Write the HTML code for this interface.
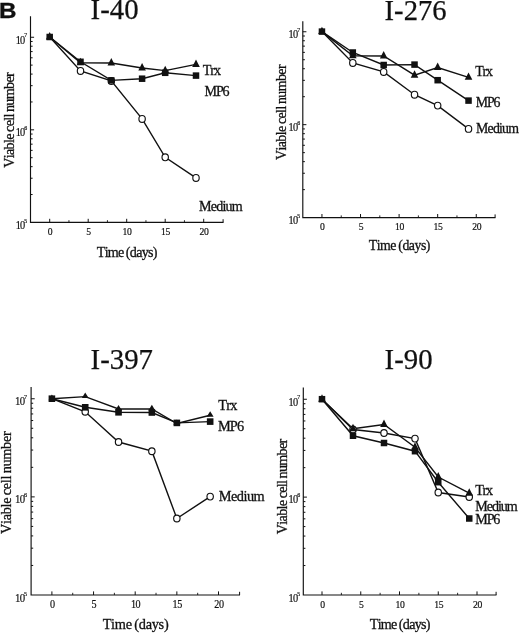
<!DOCTYPE html>
<html lang="en">
<head>
<meta charset="utf-8">
<title>Figure B: Viable cell number</title>
<style>
html,body{margin:0;padding:0;background:#fff;}
body{width:520px;height:634px;overflow:hidden;}
svg{display:block;}
svg text{font-family:"Liberation Serif", serif;fill:#111;font-kerning:none;}
</style>
</head>
<body>
<svg width="520" height="634" viewBox="0 0 520 634">
<rect width="520" height="634" fill="#fff"/>
<text transform="translate(-1.1 17.5) scale(1.1,1)" style='font-family:"Liberation Sans", sans-serif;font-weight:bold' font-size="22" stroke="#000" stroke-width="0.3" fill="#000">B</text>
<path d="M30.50 16.25V222.40H223.50" fill="none" stroke="#111" stroke-width="1.15"/>
<path d="M49.70 222.40v-3.6M88.20 222.40v-3.6M126.70 222.40v-3.6M165.20 222.40v-3.6M203.70 222.40v-3.6M223.10 222.40v-3.2" stroke="#111" stroke-width="1" fill="none"/>
<path d="M68.95 222.40v-2.2M107.45 222.40v-2.2M145.95 222.40v-2.2M184.45 222.40v-2.2" stroke="#111" stroke-width="0.9" fill="none"/>
<path d="M30.50 37.25h3.6M30.50 129.82h3.6" stroke="#111" stroke-width="1" fill="none"/>
<path d="M30.50 101.96h2.1M30.50 85.66h2.1M30.50 74.09h2.1M30.50 65.12h2.1M30.50 57.79h2.1M30.50 51.59h2.1M30.50 46.22h2.1M30.50 41.49h2.1M30.50 194.53h2.1M30.50 178.23h2.1M30.50 166.66h2.1M30.50 157.69h2.1M30.50 150.36h2.1M30.50 144.17h2.1M30.50 138.80h2.1M30.50 134.06h2.1" stroke="#111" stroke-width="1" fill="none"/>
<text transform="translate(50.10 235.40) scale(0.88,1)" font-size="11" letter-spacing="-0.4" text-anchor="middle" stroke="#111" stroke-width="0.2">0</text>
<text transform="translate(88.60 235.40) scale(0.88,1)" font-size="11" letter-spacing="-0.4" text-anchor="middle" stroke="#111" stroke-width="0.2">5</text>
<text transform="translate(127.10 235.40) scale(0.88,1)" font-size="11" letter-spacing="-0.4" text-anchor="middle" stroke="#111" stroke-width="0.2">10</text>
<text transform="translate(165.60 235.40) scale(0.88,1)" font-size="11" letter-spacing="-0.4" text-anchor="middle" stroke="#111" stroke-width="0.2">15</text>
<text transform="translate(204.10 235.40) scale(0.88,1)" font-size="11" letter-spacing="-0.4" text-anchor="middle" stroke="#111" stroke-width="0.2">20</text>
<text transform="translate(15.70 43.55) scale(0.86,1)" font-size="12" letter-spacing="-0.9" stroke="#111" stroke-width="0.2">10<tspan font-size="6.8" dy="-6.2" dx="-0.2">7</tspan></text>
<text transform="translate(15.70 136.12) scale(0.86,1)" font-size="12" letter-spacing="-0.9" stroke="#111" stroke-width="0.2">10<tspan font-size="6.8" dy="-6.2" dx="-0.2">6</tspan></text>
<text transform="translate(15.70 229.20) scale(0.86,1)" font-size="12" letter-spacing="-0.9" stroke="#111" stroke-width="0.2">10<tspan font-size="6.8" dy="-6.2" dx="-0.2">5</tspan></text>
<text transform="translate(14.20 167.76) rotate(-90) scale(0.91,1)" font-size="15.5" letter-spacing="-0.726" word-spacing="-0.7" stroke="#111" stroke-width="0.3">Viable cell number</text>
<text transform="translate(96.75 257.00) scale(0.91,1)" font-size="15.5" letter-spacing="-0.773" word-spacing="-0.7" stroke="#111" stroke-width="0.3">Time (days)</text>
<text x="90.60" y="19.20" font-size="28.8" stroke="#111" stroke-width="0.25">I-40</text>
<text transform="translate(202.65 74.60) scale(0.91,1)" font-size="15.5" letter-spacing="-1.010" word-spacing="-0.7" stroke="#111" stroke-width="0.3">Trx</text>
<text transform="translate(204.59 96.25) scale(0.91,1)" font-size="15.5" letter-spacing="-1.298" word-spacing="-0.7" stroke="#111" stroke-width="0.3">MP6</text>
<text transform="translate(199.09 211.25) scale(0.91,1)" font-size="15.5" letter-spacing="-0.917" word-spacing="-0.7" stroke="#111" stroke-width="0.3">Medium</text>
<polyline points="49.70,37.00 80.50,70.90 111.30,80.90 142.10,118.90 165.20,157.30 196.00,177.90" fill="none" stroke="#111" stroke-width="1.4"/>
<polyline points="49.70,37.00 80.50,62.70 111.30,63.00 142.10,68.00 165.20,70.60 196.00,64.40" fill="none" stroke="#111" stroke-width="1.4"/>
<polyline points="49.70,37.00 80.50,61.80 111.30,80.40 142.10,78.70 165.20,72.80 196.00,75.60" fill="none" stroke="#111" stroke-width="1.4"/>
<ellipse cx="80.50" cy="70.90" rx="3.20" ry="3.40" fill="#fff" stroke="#111" stroke-width="1.15"/>
<ellipse cx="111.30" cy="80.90" rx="3.20" ry="3.40" fill="#fff" stroke="#111" stroke-width="1.15"/>
<ellipse cx="142.10" cy="118.90" rx="3.20" ry="3.40" fill="#fff" stroke="#111" stroke-width="1.15"/>
<ellipse cx="165.20" cy="157.30" rx="3.20" ry="3.40" fill="#fff" stroke="#111" stroke-width="1.15"/>
<ellipse cx="196.00" cy="177.90" rx="3.20" ry="3.40" fill="#fff" stroke="#111" stroke-width="1.15"/>
<path d="M49.70 32.10L53.50 39.50H45.90Z" fill="#111"/>
<path d="M80.50 57.80L84.30 65.20H76.70Z" fill="#111"/>
<path d="M111.30 58.10L115.10 65.50H107.50Z" fill="#111"/>
<path d="M142.10 63.10L145.90 70.50H138.30Z" fill="#111"/>
<path d="M165.20 65.70L169.00 73.10H161.40Z" fill="#111"/>
<path d="M196.00 59.50L199.80 66.90H192.20Z" fill="#111"/>
<rect x="46.45" y="33.75" width="6.50" height="6.50" fill="#111"/>
<rect x="77.25" y="58.55" width="6.50" height="6.50" fill="#111"/>
<rect x="108.05" y="77.15" width="6.50" height="6.50" fill="#111"/>
<rect x="138.85" y="75.45" width="6.50" height="6.50" fill="#111"/>
<rect x="161.95" y="69.55" width="6.50" height="6.50" fill="#111"/>
<rect x="192.75" y="72.35" width="6.50" height="6.50" fill="#111"/>
<path d="M302.80 21.25V217.60H495.50" fill="none" stroke="#111" stroke-width="1.15"/>
<path d="M321.95 217.60v-3.6M360.52 217.60v-3.6M399.10 217.60v-3.6M437.67 217.60v-3.6M476.25 217.60v-3.6M495.10 217.60v-3.2" stroke="#111" stroke-width="1" fill="none"/>
<path d="M341.24 217.60v-2.2M379.81 217.60v-2.2M418.39 217.60v-2.2M456.96 217.60v-2.2" stroke="#111" stroke-width="0.9" fill="none"/>
<path d="M302.80 31.75h3.6M302.80 124.67h3.6" stroke="#111" stroke-width="1" fill="none"/>
<path d="M302.80 96.70h2.1M302.80 80.34h2.1M302.80 68.73h2.1M302.80 59.72h2.1M302.80 52.37h2.1M302.80 46.14h2.1M302.80 40.76h2.1M302.80 36.00h2.1M302.80 189.63h2.1M302.80 173.26h2.1M302.80 161.65h2.1M302.80 152.65h2.1M302.80 145.29h2.1M302.80 139.07h2.1M302.80 133.68h2.1M302.80 128.93h2.1" stroke="#111" stroke-width="1" fill="none"/>
<text transform="translate(322.35 229.80) scale(0.88,1)" font-size="11" letter-spacing="-0.4" text-anchor="middle" stroke="#111" stroke-width="0.2">0</text>
<text transform="translate(360.92 229.80) scale(0.88,1)" font-size="11" letter-spacing="-0.4" text-anchor="middle" stroke="#111" stroke-width="0.2">5</text>
<text transform="translate(399.50 229.80) scale(0.88,1)" font-size="11" letter-spacing="-0.4" text-anchor="middle" stroke="#111" stroke-width="0.2">10</text>
<text transform="translate(438.07 229.80) scale(0.88,1)" font-size="11" letter-spacing="-0.4" text-anchor="middle" stroke="#111" stroke-width="0.2">15</text>
<text transform="translate(476.65 229.80) scale(0.88,1)" font-size="11" letter-spacing="-0.4" text-anchor="middle" stroke="#111" stroke-width="0.2">20</text>
<text transform="translate(288.60 38.05) scale(0.86,1)" font-size="12" letter-spacing="-0.9" stroke="#111" stroke-width="0.2">10<tspan font-size="6.8" dy="-6.2" dx="-0.2">7</tspan></text>
<text transform="translate(288.60 130.97) scale(0.86,1)" font-size="12" letter-spacing="-0.9" stroke="#111" stroke-width="0.2">10<tspan font-size="6.8" dy="-6.2" dx="-0.2">6</tspan></text>
<text transform="translate(288.60 224.40) scale(0.86,1)" font-size="12" letter-spacing="-0.9" stroke="#111" stroke-width="0.2">10<tspan font-size="6.8" dy="-6.2" dx="-0.2">5</tspan></text>
<text transform="translate(286.30 159.96) rotate(-90) scale(0.91,1)" font-size="15.2" letter-spacing="-0.592" word-spacing="-0.7" stroke="#111" stroke-width="0.3">Viable cell number</text>
<text transform="translate(368.75 249.80) scale(0.91,1)" font-size="15.2" letter-spacing="-0.530" word-spacing="-0.7" stroke="#111" stroke-width="0.3">Time (days)</text>
<text x="384.60" y="20.30" font-size="28.6" stroke="#111" stroke-width="0.25">I-276</text>
<text transform="translate(475.25 76.25) scale(0.91,1)" font-size="15.2" letter-spacing="-1.238" word-spacing="-0.7" stroke="#111" stroke-width="0.3">Trx</text>
<text transform="translate(475.85 106.75) scale(0.91,1)" font-size="15.2" letter-spacing="-1.290" word-spacing="-0.7" stroke="#111" stroke-width="0.3">MP6</text>
<text transform="translate(476.10 132.70) scale(0.91,1)" font-size="15.2" letter-spacing="-0.870" word-spacing="-0.7" stroke="#111" stroke-width="0.3">Medium</text>
<polyline points="321.95,31.60 352.81,62.90 383.67,71.90 414.53,94.70 437.67,105.60 468.53,128.90" fill="none" stroke="#111" stroke-width="1.4"/>
<polyline points="321.95,31.60 352.81,55.70 383.67,56.00 414.53,75.20 437.67,67.50 468.53,77.30" fill="none" stroke="#111" stroke-width="1.4"/>
<polyline points="321.95,31.60 352.81,52.50 383.67,65.00 414.53,64.60 437.67,80.20 468.53,100.60" fill="none" stroke="#111" stroke-width="1.4"/>
<ellipse cx="352.81" cy="62.90" rx="3.20" ry="3.40" fill="#fff" stroke="#111" stroke-width="1.15"/>
<ellipse cx="383.67" cy="71.90" rx="3.20" ry="3.40" fill="#fff" stroke="#111" stroke-width="1.15"/>
<ellipse cx="414.53" cy="94.70" rx="3.20" ry="3.40" fill="#fff" stroke="#111" stroke-width="1.15"/>
<ellipse cx="437.67" cy="105.60" rx="3.20" ry="3.40" fill="#fff" stroke="#111" stroke-width="1.15"/>
<ellipse cx="468.53" cy="128.90" rx="3.20" ry="3.40" fill="#fff" stroke="#111" stroke-width="1.15"/>
<path d="M321.95 26.70L325.75 34.10H318.15Z" fill="#111"/>
<path d="M352.81 50.80L356.61 58.20H349.01Z" fill="#111"/>
<path d="M383.67 51.10L387.47 58.50H379.87Z" fill="#111"/>
<path d="M414.53 70.30L418.33 77.70H410.73Z" fill="#111"/>
<path d="M437.67 62.60L441.47 70.00H433.87Z" fill="#111"/>
<path d="M468.53 72.40L472.33 79.80H464.73Z" fill="#111"/>
<rect x="318.70" y="28.35" width="6.50" height="6.50" fill="#111"/>
<rect x="349.56" y="49.25" width="6.50" height="6.50" fill="#111"/>
<rect x="380.42" y="61.75" width="6.50" height="6.50" fill="#111"/>
<rect x="411.28" y="61.35" width="6.50" height="6.50" fill="#111"/>
<rect x="434.42" y="76.95" width="6.50" height="6.50" fill="#111"/>
<rect x="465.28" y="97.35" width="6.50" height="6.50" fill="#111"/>
<path d="M31.10 387.00V595.00H240.00" fill="none" stroke="#111" stroke-width="1.15"/>
<path d="M51.90 595.00v-3.6M93.55 595.00v-3.6M135.20 595.00v-3.6M176.85 595.00v-3.6M218.50 595.00v-3.6M239.60 595.00v-3.2" stroke="#111" stroke-width="1" fill="none"/>
<path d="M72.72 595.00v-2.2M114.38 595.00v-2.2M156.03 595.00v-2.2M197.68 595.00v-2.2" stroke="#111" stroke-width="0.9" fill="none"/>
<path d="M31.10 398.75h3.6M31.10 496.88h3.6" stroke="#111" stroke-width="1" fill="none"/>
<path d="M31.10 467.34h2.1M31.10 450.06h2.1M31.10 437.80h2.1M31.10 428.29h2.1M31.10 420.52h2.1M31.10 413.95h2.1M31.10 408.26h2.1M31.10 403.24h2.1M31.10 565.46h2.1M31.10 548.18h2.1M31.10 535.92h2.1M31.10 526.41h2.1M31.10 518.64h2.1M31.10 512.07h2.1M31.10 506.38h2.1M31.10 501.36h2.1" stroke="#111" stroke-width="1" fill="none"/>
<text transform="translate(52.30 608.40) scale(0.88,1)" font-size="11.5" letter-spacing="-0.4" text-anchor="middle" stroke="#111" stroke-width="0.2">0</text>
<text transform="translate(93.95 608.40) scale(0.88,1)" font-size="11.5" letter-spacing="-0.4" text-anchor="middle" stroke="#111" stroke-width="0.2">5</text>
<text transform="translate(135.60 608.40) scale(0.88,1)" font-size="11.5" letter-spacing="-0.4" text-anchor="middle" stroke="#111" stroke-width="0.2">10</text>
<text transform="translate(177.25 608.40) scale(0.88,1)" font-size="11.5" letter-spacing="-0.4" text-anchor="middle" stroke="#111" stroke-width="0.2">15</text>
<text transform="translate(218.90 608.40) scale(0.88,1)" font-size="11.5" letter-spacing="-0.4" text-anchor="middle" stroke="#111" stroke-width="0.2">20</text>
<text transform="translate(15.10 405.25) scale(0.86,1)" font-size="12.5" letter-spacing="-0.9" stroke="#111" stroke-width="0.2">10<tspan font-size="7.1" dy="-6.5" dx="-0.2">7</tspan></text>
<text transform="translate(15.10 503.38) scale(0.86,1)" font-size="12.5" letter-spacing="-0.9" stroke="#111" stroke-width="0.2">10<tspan font-size="7.1" dy="-6.5" dx="-0.2">6</tspan></text>
<text transform="translate(15.10 602.00) scale(0.86,1)" font-size="12.5" letter-spacing="-0.9" stroke="#111" stroke-width="0.2">10<tspan font-size="7.1" dy="-6.5" dx="-0.2">5</tspan></text>
<text transform="translate(11.30 533.96) rotate(-90) scale(0.97,1)" font-size="14.8" letter-spacing="-0.356" word-spacing="-0.7" stroke="#111" stroke-width="0.3">Viable cell number</text>
<text transform="translate(102.64 628.50) scale(0.97,1)" font-size="14.8" letter-spacing="-0.308" word-spacing="-0.7" stroke="#111" stroke-width="0.3">Time (days)</text>
<text x="90.60" y="368.80" font-size="28.8" stroke="#111" stroke-width="0.25">I-397</text>
<text transform="translate(218.34 409.50) scale(0.97,1)" font-size="14.8" letter-spacing="-0.873" word-spacing="-0.7" stroke="#111" stroke-width="0.3">Trx</text>
<text transform="translate(217.99 431.40) scale(0.97,1)" font-size="14.8" letter-spacing="-0.920" word-spacing="-0.7" stroke="#111" stroke-width="0.3">MP6</text>
<text transform="translate(218.79 501.20) scale(0.97,1)" font-size="14.8" letter-spacing="-0.559" word-spacing="-0.7" stroke="#111" stroke-width="0.3">Medium</text>
<polyline points="51.90,398.70 85.22,411.80 118.54,442.00 151.86,451.20 176.85,518.50 210.17,496.60" fill="none" stroke="#111" stroke-width="1.4"/>
<polyline points="51.90,398.70 85.22,396.60 118.54,409.00 151.86,408.90 176.85,423.50 210.17,415.30" fill="none" stroke="#111" stroke-width="1.4"/>
<polyline points="51.90,398.70 85.22,407.30 118.54,412.30 151.86,412.50 176.85,422.90 210.17,421.60" fill="none" stroke="#111" stroke-width="1.4"/>
<ellipse cx="85.22" cy="411.80" rx="3.20" ry="3.40" fill="#fff" stroke="#111" stroke-width="1.15"/>
<ellipse cx="118.54" cy="442.00" rx="3.20" ry="3.40" fill="#fff" stroke="#111" stroke-width="1.15"/>
<ellipse cx="151.86" cy="451.20" rx="3.20" ry="3.40" fill="#fff" stroke="#111" stroke-width="1.15"/>
<ellipse cx="176.85" cy="518.50" rx="3.20" ry="3.40" fill="#fff" stroke="#111" stroke-width="1.15"/>
<ellipse cx="210.17" cy="496.60" rx="3.20" ry="3.40" fill="#fff" stroke="#111" stroke-width="1.15"/>
<path d="M51.90 394.60L55.30 400.20H48.50Z" fill="#111"/>
<path d="M85.22 392.50L88.62 398.10H81.82Z" fill="#111"/>
<path d="M118.54 404.90L121.94 410.50H115.14Z" fill="#111"/>
<path d="M151.86 404.80L155.26 410.40H148.46Z" fill="#111"/>
<path d="M176.85 419.40L180.25 425.00H173.45Z" fill="#111"/>
<path d="M210.17 411.20L213.57 416.80H206.77Z" fill="#111"/>
<rect x="48.60" y="395.40" width="6.60" height="6.60" fill="#111"/>
<rect x="81.92" y="404.00" width="6.60" height="6.60" fill="#111"/>
<rect x="115.24" y="409.00" width="6.60" height="6.60" fill="#111"/>
<rect x="148.56" y="409.20" width="6.60" height="6.60" fill="#111"/>
<rect x="173.55" y="419.60" width="6.60" height="6.60" fill="#111"/>
<rect x="206.87" y="418.30" width="6.60" height="6.60" fill="#111"/>
<path d="M303.30 387.50V595.00H496.50" fill="none" stroke="#111" stroke-width="1.15"/>
<path d="M322.00 595.00v-3.6M360.75 595.00v-3.6M399.50 595.00v-3.6M438.25 595.00v-3.6M477.00 595.00v-3.6M496.10 595.00v-3.2" stroke="#111" stroke-width="1" fill="none"/>
<path d="M341.38 595.00v-2.2M380.12 595.00v-2.2M418.88 595.00v-2.2M457.62 595.00v-2.2" stroke="#111" stroke-width="0.9" fill="none"/>
<path d="M303.30 399.25h3.6M303.30 497.12h3.6" stroke="#111" stroke-width="1" fill="none"/>
<path d="M303.30 467.66h2.1M303.30 450.43h2.1M303.30 438.20h2.1M303.30 428.71h2.1M303.30 420.96h2.1M303.30 414.41h2.1M303.30 408.74h2.1M303.30 403.73h2.1M303.30 565.54h2.1M303.30 548.30h2.1M303.30 536.07h2.1M303.30 526.59h2.1M303.30 518.84h2.1M303.30 512.29h2.1M303.30 506.61h2.1M303.30 501.60h2.1" stroke="#111" stroke-width="1" fill="none"/>
<text transform="translate(322.40 608.20) scale(0.88,1)" font-size="11" letter-spacing="-0.4" text-anchor="middle" stroke="#111" stroke-width="0.2">0</text>
<text transform="translate(361.15 608.20) scale(0.88,1)" font-size="11" letter-spacing="-0.4" text-anchor="middle" stroke="#111" stroke-width="0.2">5</text>
<text transform="translate(399.90 608.20) scale(0.88,1)" font-size="11" letter-spacing="-0.4" text-anchor="middle" stroke="#111" stroke-width="0.2">10</text>
<text transform="translate(438.65 608.20) scale(0.88,1)" font-size="11" letter-spacing="-0.4" text-anchor="middle" stroke="#111" stroke-width="0.2">15</text>
<text transform="translate(477.40 608.20) scale(0.88,1)" font-size="11" letter-spacing="-0.4" text-anchor="middle" stroke="#111" stroke-width="0.2">20</text>
<text transform="translate(288.60 405.55) scale(0.86,1)" font-size="12" letter-spacing="-0.9" stroke="#111" stroke-width="0.2">10<tspan font-size="6.8" dy="-6.2" dx="-0.2">7</tspan></text>
<text transform="translate(288.60 503.43) scale(0.86,1)" font-size="12" letter-spacing="-0.9" stroke="#111" stroke-width="0.2">10<tspan font-size="6.8" dy="-6.2" dx="-0.2">6</tspan></text>
<text transform="translate(288.60 601.80) scale(0.86,1)" font-size="12" letter-spacing="-0.9" stroke="#111" stroke-width="0.2">10<tspan font-size="6.8" dy="-6.2" dx="-0.2">5</tspan></text>
<text transform="translate(286.80 534.16) rotate(-90) scale(0.91,1)" font-size="15.5" letter-spacing="-0.726" word-spacing="-0.7" stroke="#111" stroke-width="0.3">Viable cell number</text>
<text transform="translate(369.75 629.00) scale(0.91,1)" font-size="15.5" letter-spacing="-0.773" word-spacing="-0.7" stroke="#111" stroke-width="0.3">Time (days)</text>
<text x="384.60" y="368.80" font-size="28.8" stroke="#111" stroke-width="0.25">I-90</text>
<text transform="translate(475.25 495.00) scale(0.91,1)" font-size="15.5" letter-spacing="-1.450" word-spacing="-0.7" stroke="#111" stroke-width="0.3">Trx</text>
<text transform="translate(475.34 510.50) scale(0.91,1)" font-size="15.5" letter-spacing="-1.191" word-spacing="-0.7" stroke="#111" stroke-width="0.3">Medium</text>
<text transform="translate(475.34 523.75) scale(0.91,1)" font-size="15.5" letter-spacing="-1.298" word-spacing="-0.7" stroke="#111" stroke-width="0.3">MP6</text>
<polyline points="322.00,399.20 353.00,429.50 384.00,433.00 415.00,438.60 438.25,492.50 469.25,497.00" fill="none" stroke="#111" stroke-width="1.4"/>
<polyline points="322.00,399.20 353.00,428.75 384.00,424.50 415.00,447.20 438.25,477.00 469.25,493.20" fill="none" stroke="#111" stroke-width="1.4"/>
<polyline points="322.00,399.20 353.00,435.75 384.00,443.00 415.00,451.20 438.25,482.20 469.25,518.50" fill="none" stroke="#111" stroke-width="1.4"/>
<ellipse cx="353.00" cy="429.50" rx="3.20" ry="3.40" fill="#fff" stroke="#111" stroke-width="1.15"/>
<ellipse cx="384.00" cy="433.00" rx="3.20" ry="3.40" fill="#fff" stroke="#111" stroke-width="1.15"/>
<ellipse cx="415.00" cy="438.60" rx="3.20" ry="3.40" fill="#fff" stroke="#111" stroke-width="1.15"/>
<ellipse cx="438.25" cy="492.50" rx="3.20" ry="3.40" fill="#fff" stroke="#111" stroke-width="1.15"/>
<ellipse cx="469.25" cy="497.00" rx="3.20" ry="3.40" fill="#fff" stroke="#111" stroke-width="1.15"/>
<path d="M322.00 394.30L325.80 401.70H318.20Z" fill="#111"/>
<path d="M353.00 423.85L356.80 431.25H349.20Z" fill="#111"/>
<path d="M384.00 419.60L387.80 427.00H380.20Z" fill="#111"/>
<path d="M415.00 442.30L418.80 449.70H411.20Z" fill="#111"/>
<path d="M438.25 472.10L442.05 479.50H434.45Z" fill="#111"/>
<path d="M469.25 488.30L473.05 495.70H465.45Z" fill="#111"/>
<rect x="318.75" y="395.95" width="6.50" height="6.50" fill="#111"/>
<rect x="349.75" y="432.50" width="6.50" height="6.50" fill="#111"/>
<rect x="380.75" y="439.75" width="6.50" height="6.50" fill="#111"/>
<rect x="411.75" y="447.95" width="6.50" height="6.50" fill="#111"/>
<rect x="435.00" y="478.95" width="6.50" height="6.50" fill="#111"/>
<rect x="466.00" y="515.25" width="6.50" height="6.50" fill="#111"/>
</svg>
</body>
</html>
